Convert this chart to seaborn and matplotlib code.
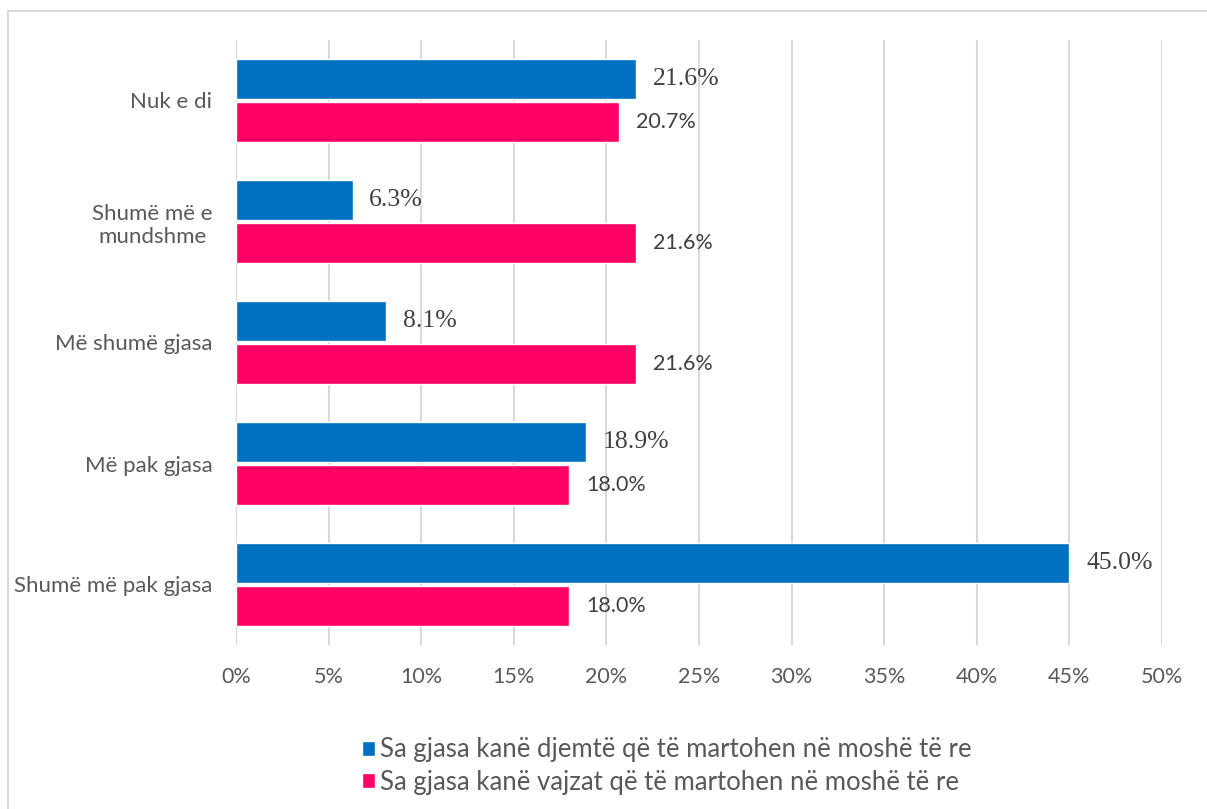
import pandas as pd
import numpy as np
import seaborn as sns
import matplotlib.pyplot as plt
from matplotlib.patches import Rectangle
from matplotlib.ticker import FuncFormatter

# data
categories = ['Nuk e di', 'Shumë më e\nmundshme', 'Më shumë gjasa', 'Më pak gjasa', 'Shumë më pak gjasa']
boys = [21.6, 6.3, 8.1, 18.9, 45.0]
girls = [20.7, 21.6, 21.6, 18.0, 18.0]
series = ['Sa gjasa kanë djemtë që të martohen në moshë të re',
          'Sa gjasa kanë vajzat që të martohen në moshë të re']
colors = ['#0070C0', '#FF0066']

df = pd.DataFrame({
    'cat': categories * 2,
    'val': boys + girls,
    'series': [series[0]] * 5 + [series[1]] * 5,
})

sns.set_style('white')
plt.rcParams['font.family'] = ['Lato', 'DejaVu Sans']
txt = '#595959'

fig = plt.figure(figsize=(12.07, 8.09), dpi=100)
ax = fig.add_axes([236/1207, (809-645)/809, (1162-236)/1207, (645-40)/809])

sns.barplot(data=df, y='cat', x='val', hue='series', orient='h', order=categories,
            hue_order=series, palette=colors, width=0.72, gap=0.08, ax=ax,
            saturation=1, legend=True)

ax.set_xlim(0, 50)
ax.set_ylim(4.5, -0.5)
ax.set_xticks(np.arange(0, 51, 5))
ax.xaxis.set_major_formatter(FuncFormatter(lambda v, p: '%d%%' % v))
ax.grid(axis='x', color='#D9D9D9', linewidth=1.5)
ax.set_axisbelow(True)
for s in ax.spines.values():
    s.set_visible(False)
ax.tick_params(axis='both', length=0, labelcolor=txt)
ax.tick_params(axis='x', pad=16, labelsize=15.5)
ax.tick_params(axis='y', pad=17, labelsize=16)
for lbl in ax.get_yticklabels():
    lbl.set_multialignment('center')
ax.set_xlabel('')
ax.set_ylabel('')

# value labels: blue in serif, pink in sans
ax.bar_label(ax.containers[0], fmt='%.1f%%', padding=12, fontsize=18.5,
             color='#404040', family='Liberation Serif')
ax.bar_label(ax.containers[1], fmt='%.1f%%', padding=12, fontsize=15.5, color='#404040')

handles, labels = ax.get_legend_handles_labels()
ax.legend_.remove()
fig.legend(handles, labels, loc='center', bbox_to_anchor=(667/1207, 1-766/809),
           frameon=False, fontsize=18.5, labelcolor=txt, handlelength=0.52,
           handleheight=0.52, handletextpad=0.2, labelspacing=0.3)

# outer chart frame
fig.patches.append(Rectangle((8/1207, -0.05), 1.1, 1 - 11/809 + 0.05,
                             transform=fig.transFigure, fill=False,
                             edgecolor='#D9D9D9', linewidth=1.5))

fig.savefig('out.png', dpi=100)
